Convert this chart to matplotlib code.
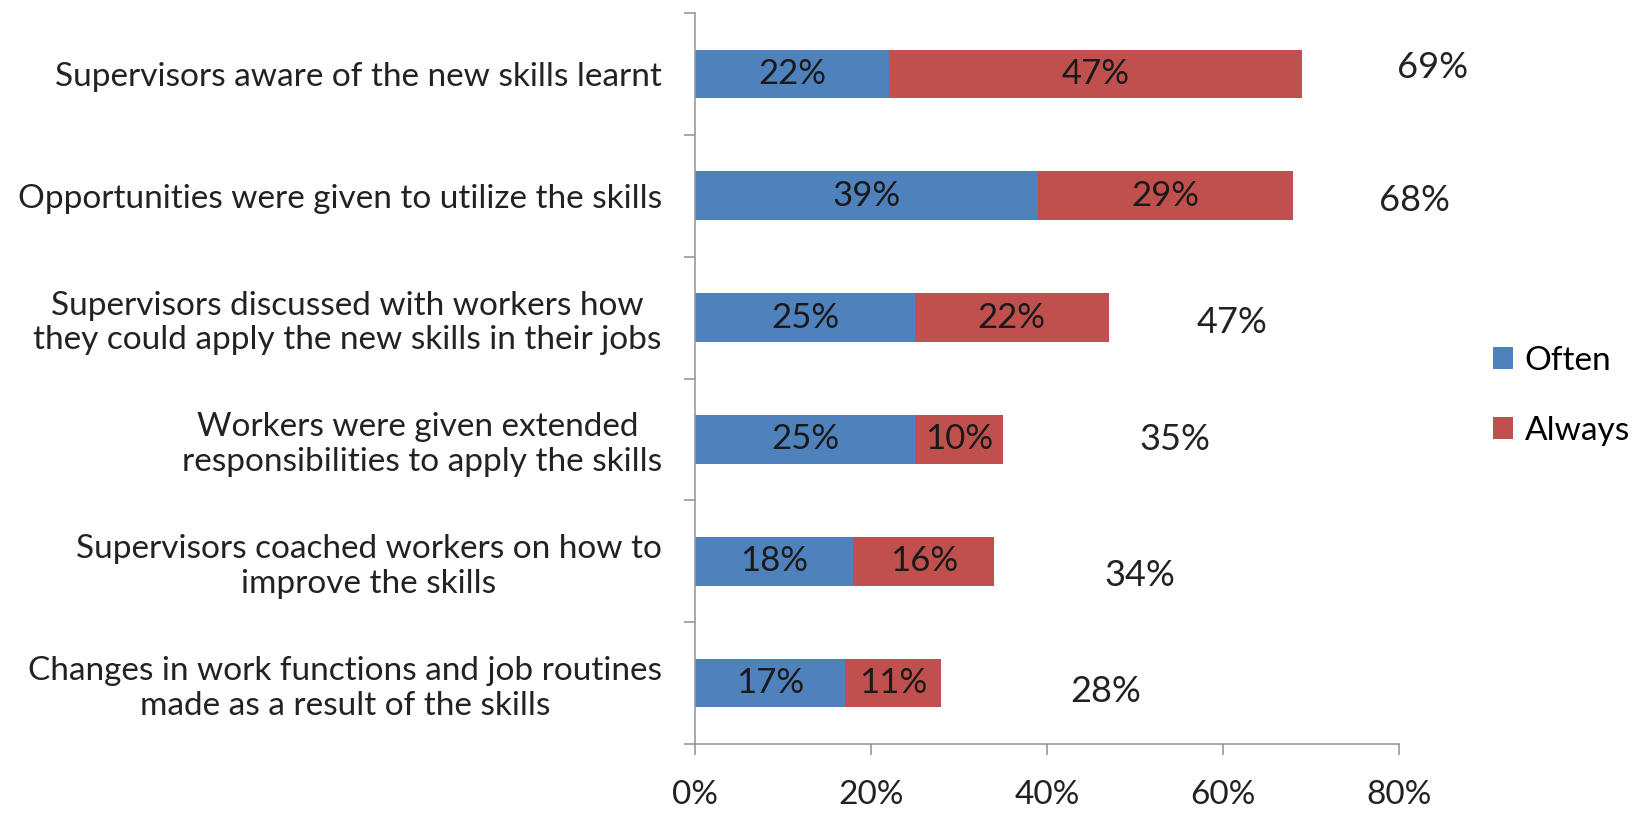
import numpy as np
import matplotlib.pyplot as plt

categories = [
    'Supervisors aware of the new skills learnt',
    'Opportunities were given to utilize the skills',
    'Supervisors discussed with workers how\nthey could apply the new skills in their jobs',
    'Workers were given extended \nresponsibilities to apply the skills',
    'Supervisors coached workers on how to\nimprove the skills',
    'Changes in work functions and job routines\nmade as a result of the skills',
]
often = [22, 39, 25, 25, 18, 17]
always = [47, 29, 22, 10, 16, 11]
totals = [69, 68, 47, 35, 34, 28]
xticks = [0, 20, 40, 60, 80]

# where the total labels sit (offset from bar end, in data units)
total_dx = [14.8, 13.7, 14.0, 19.5, 16.5, 18.7]
total_dy = [-0.05, 0.04, 0.04, 0.0, 0.12, 0.07]

blue = '#4F81BD'
red = '#C0504D'
plt.rcParams['font.family'] = ['Lato', 'DejaVu Sans']

fig = plt.figure(figsize=(16.44, 8.16), dpi=100)
ax = fig.add_axes([0.4228, 0.0882, 0.4282, 0.8958])

y = np.arange(len(categories))
ax.barh(y, often, height=0.4, color=blue, label='Often')
ax.barh(y, always, left=often, height=0.4, color=red, label='Always')

for i in range(len(categories)):
    ax.text(often[i] / 2, y[i], f'{often[i]}%', ha='center', va='center',
            fontsize=25, color='#1a1a1a')
    ax.text(often[i] + always[i] / 2, y[i], f'{always[i]}%', ha='center',
            va='center', fontsize=25, color='#1a1a1a')
    ax.text(totals[i] + total_dx[i], y[i] + total_dy[i], f'{totals[i]}%',
            ha='center', va='center', fontsize=26, color='#222222')

ax.set_xlim(0, 80)
ax.set_ylim(len(categories) - 0.5, -0.5)
ax.set_xticks(xticks)
ax.set_xticklabels([f'{t}%' for t in xticks], fontsize=24, color='#222222')
ax.tick_params(axis='x', length=8, pad=18, color='#999999', width=1.2)

ax.set_yticks(np.arange(len(categories) + 1) - 0.5)
ax.set_yticklabels([])
ax.set_yticks(y, minor=True)
ax.set_yticklabels(categories, minor=True, fontsize=24, color='#222222',
                   multialignment='center')
ax.tick_params(axis='y', which='major', length=8, color='#999999', width=1.2)
ax.tick_params(axis='y', which='minor', length=0, pad=24)

for s in ['top', 'right']:
    ax.spines[s].set_visible(False)
for s in ['left', 'bottom']:
    ax.spines[s].set_color('#999999')
    ax.spines[s].set_linewidth(1.2)

leg = fig.legend(loc='center left', bbox_to_anchor=(0.89, 0.515), frameon=False,
                 fontsize=24, handlelength=0.6, handleheight=0.6,
                 handletextpad=0.35, labelspacing=1.2)

fig.savefig('out.png', dpi=100)
